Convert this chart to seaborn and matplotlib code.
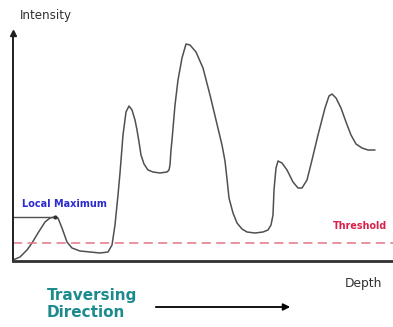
import matplotlib
matplotlib.use("Agg")
import matplotlib.pyplot as plt
import seaborn as sns
import pandas as pd

# Curve samples (depth, intensity)
depth = [0, 7, 14, 19, 25, 32, 37, 42, 45, 49, 54, 59, 67, 77, 87, 95, 99, 102, 105, 107,
         110, 113, 116, 119, 122, 124, 126, 128, 131, 135, 140, 147, 154, 156, 157, 158, 159, 162,
         165, 169, 173, 177, 183, 190, 197, 203, 209, 212, 214, 216, 220, 224, 229, 234, 242,
         250, 255, 258, 260, 261, 263, 265, 269, 274, 280, 285, 289, 294, 299, 305, 312, 316,
         319, 323, 328, 333, 338, 343, 349, 355, 362]
intensity = [1, 4, 11, 18, 28, 39, 43, 44, 43, 33, 19, 13, 10, 9, 8, 9, 16, 36, 66, 88,
             126, 149, 155, 151, 141, 131, 119, 106, 97, 91, 89, 88, 89, 91, 96, 111, 121, 156,
             181, 203, 217, 216, 209, 193, 166, 141, 116, 100, 82, 63, 48, 38, 32, 29, 28,
             29, 31, 36, 46, 71, 93, 100, 98, 91, 79, 73, 73, 81, 101, 126, 153, 165, 167,
             163, 153, 139, 126, 117, 113, 111, 111]
threshold = 18
local_max = 44
local_max_depth = 42

df = pd.DataFrame({"depth": depth, "intensity": intensity})

sns.set_style("white")
plt.rcParams['font.family'] = ['DejaVu Sans']

W, H = 393, 327
fig = plt.figure(figsize=(W / 100, H / 100), dpi=100)
ax = fig.add_axes([13 / W, (H - 261) / H, 380 / W, 228 / H])

sns.lineplot(data=df, x="depth", y="intensity", sort=False, color="#505050",
             linewidth=1.1, ax=ax)
ax.axhline(threshold, color="#e27585", linewidth=1.1, dashes=(6, 3.5))
ax.plot([0, local_max_depth], [local_max, local_max], color="#505050", linewidth=1.0)
ax.plot([local_max_depth], [local_max], marker="o", markersize=2, color="#303030")

ax.set_xlim(0, 380)
ax.set_ylim(0, 228)
ax.set_xticks([])
ax.set_yticks([])
ax.set_xlabel("")
ax.set_ylabel("")
for s in ["top", "right"]:
    ax.spines[s].set_visible(False)
ax.spines["left"].set_color("#202020")
ax.spines["left"].set_linewidth(1.4)
ax.spines["bottom"].set_color("#303030")
ax.spines["bottom"].set_linewidth(2.0)
ax.plot([0], [228], marker="^", markersize=4, color="#202020", clip_on=False)

ax.text(9, 57, "Local Maximum", color="#2b2bd0", fontsize=7, fontweight="bold",
        va="center", ha="left")
ax.text(374, 35, "Threshold", color="#d8204a", fontsize=6.9, fontweight="bold",
        va="center", ha="right")

fig.text(20 / W, 1 - 15 / H, "Intensity", fontsize=8.6, color="#303030",
         va="center", ha="left")
fig.text(345 / W, 1 - 284 / H, "Depth", fontsize=8.8, color="#303030",
         va="center", ha="left")
fig.text(47 / W, 1 - 304 / H, "Traversing\nDirection", fontsize=11, fontweight="bold",
         color="#1d8b8e", va="center", ha="left", linespacing=1.1)
fig.patches.append(matplotlib.patches.FancyArrowPatch(
    (153 / W, 1 - 307 / H), (293 / W, 1 - 307 / H), transform=fig.transFigure,
    arrowstyle="-|>", mutation_scale=10, color="black", linewidth=1.3))

fig.savefig("out.png", dpi=100)
